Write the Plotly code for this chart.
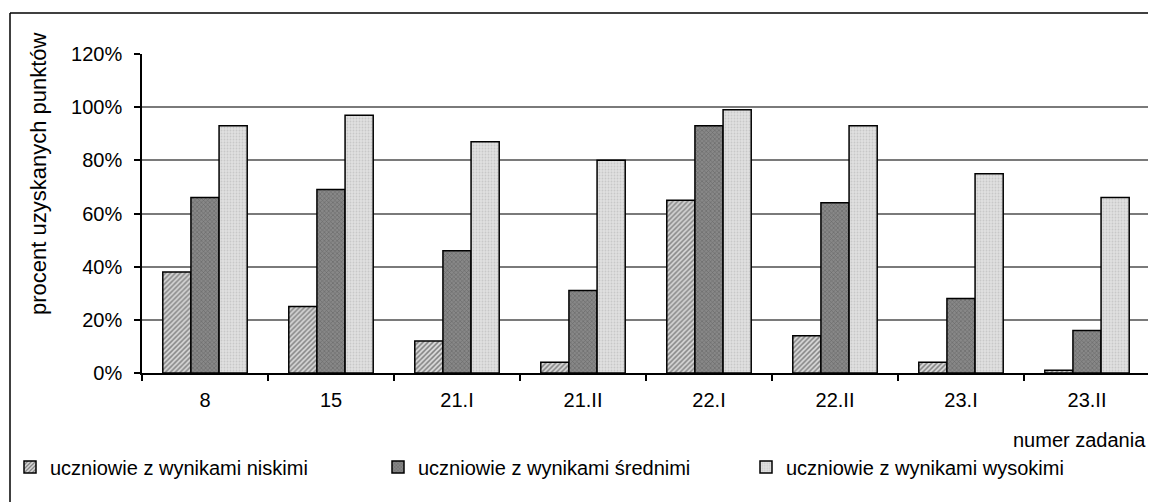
import plotly.graph_objects as go

categories = ["8", "15", "21.I", "21.II", "22.I", "22.II", "23.I", "23.II"]
niskie = [38, 25, 12, 4, 65, 14, 4, 1]
srednie = [66, 69, 46, 31, 93, 64, 28, 16]
wysokie = [93, 97, 87, 80, 99, 93, 75, 66]
series_names = ["uczniowie z wynikami niskimi",
                "uczniowie z wynikami średnimi",
                "uczniowie z wynikami wysokimi"]
y_ticks = [0, 20, 40, 60, 80, 100, 120]
y_tick_labels = ["0%", "20%", "40%", "60%", "80%", "100%", "120%"]

FONT = "Liberation Sans, Arial, sans-serif"

# page body has an 8px margin; work in reference pixel coords minus 8
OFF = 8
W, H = 1156 - OFF, 502 - OFF
L = 142 - OFF
T = 54 - OFF
R = W - (1150 - OFF)
B = H - (373 - OFF)
pw, ph = W - L - R, H - T - B


def px(xr):
    return (xr - OFF - L) / pw


def py(yr):
    return (H - B - (yr - OFF)) / ph


fig = go.Figure()
styles = [
    dict(color="#d4d4d4", pattern=dict(shape="/", fgcolor="#2e2e2e", bgcolor="#d8d8d8", size=3.5, solidity=0.45)),
    dict(color="#7a7a7a", pattern=dict(shape="x", fgcolor="#444444", bgcolor="#888888", size=3, solidity=0.35)),
    dict(color="#dcdcdc", pattern=dict(shape=".", fgcolor="#b0b0b0", bgcolor="#e0e0e0", size=3, solidity=0.3)),
]
for name, vals, st in zip(series_names, [niskie, srednie, wysokie], styles):
    fig.add_trace(go.Bar(
        x=categories, y=vals, name=name,
        marker=dict(color=st["color"], pattern=st["pattern"],
                    line=dict(color="black", width=1.5)),
    ))

fig.update_layout(
    width=W, height=H,
    margin=dict(l=L, r=R, t=T, b=B, autoexpand=False),
    paper_bgcolor="white", plot_bgcolor="white",
    font=dict(family=FONT, size=20, color="black"),
    barmode="group", bargap=0.33, bargroupgap=0.0,
    showlegend=True,
    legend=dict(orientation="h", x=px(10), xanchor="left", y=py(467), yanchor="middle",
                entrywidth=323, entrywidthmode="pixels",
                itemwidth=30, font=dict(size=20, family=FONT),
                bgcolor="rgba(0,0,0,0)", tracegroupgap=0),
    xaxis=dict(showline=True, linecolor="black", linewidth=1.5,
               ticks="outside", ticklen=6, tickcolor="black", tickwidth=1.5,
               tickson="boundaries", showgrid=False, automargin=False,
               tickfont=dict(size=20, family=FONT), ticklabelstandoff=8),
    yaxis=dict(range=[0, 120], tickvals=y_ticks, ticktext=y_tick_labels,
               showline=True, linecolor="black", linewidth=1.5, mirror=True,
               ticks="outside", ticklen=6, tickcolor="black", tickwidth=1.5,
               showgrid=True, gridcolor="#7a7a7a", gridwidth=1.5, automargin=False,
               zeroline=False, tickfont=dict(size=20, family=FONT),
               ticklabelstandoff=8),
)

# axis titles
fig.add_annotation(text="procent uzyskanych punktów", textangle=-90,
                   xref="paper", yref="paper", x=px(38), y=py(174),
                   showarrow=False, font=dict(size=22, family=FONT),
                   xanchor="center", yanchor="middle")
fig.add_annotation(text="numer zadania", xref="paper", yref="paper",
                   x=px(1148), y=py(440),
                   showarrow=False, font=dict(size=20, family=FONT),
                   xanchor="right", yanchor="middle")

# outer chart frame (left and top edges; the rest lies outside the picture)
fig.add_shape(type="line", xref="paper", yref="paper",
              x0=px(10), x1=px(10), y0=py(502), y1=py(13),
              line=dict(color="black", width=1.5), layer="below")
fig.add_shape(type="line", xref="paper", yref="paper",
              x0=px(10), x1=px(1156), y0=py(13), y1=py(13),
              line=dict(color="black", width=1.5), layer="below")

fig.write_html("out.html")
